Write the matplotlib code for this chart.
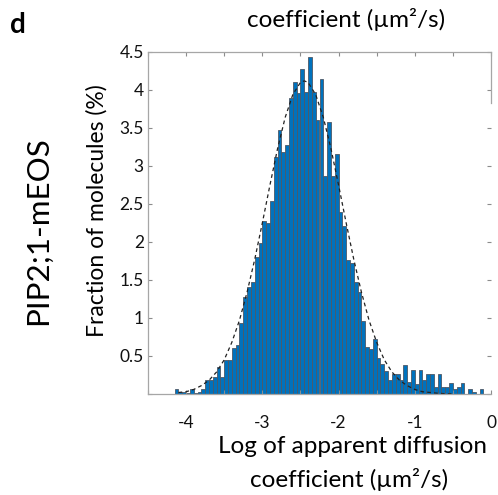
import numpy as np
import matplotlib
matplotlib.use("Agg")
import matplotlib.pyplot as plt

plt.rcParams['font.family'] = ['Lato', 'DejaVu Sans']

# histogram: left bin edge of the first bar, bin width, bar heights (%)
BIN_START = -4.15
BIN_WIDTH = 0.05
heights = [0.06, 0.03, 0.02, 0.01, 0.06, 0.01, 0.03, 0.06, 0.19, 0.19,
           0.22, 0.35, 0.22, 0.45, 0.45, 0.61, 0.64, 0.93, 1.28, 1.41,
           1.48, 1.80, 1.99, 2.28, 2.25, 2.54, 3.12, 3.47, 3.19, 3.28,
           3.89, 4.11, 3.96, 4.27, 3.98, 4.43, 3.98, 3.60, 4.15, 2.87,
           3.58, 2.87, 3.16, 2.40, 2.21, 1.76, 1.73, 1.47, 1.34, 0.96,
           0.62, 0.59, 0.72, 0.47, 0.40, 0.30, 0.19, 0.26, 0.26, 0.19,
           0.385, 0.155, 0.32, 0.13, 0.32, 0.19, 0.26, 0.26, 0.09, 0.26,
           0.09, 0.09, 0.15, 0.06, 0.09, 0.15, 0.0, 0.06, 0.03, 0.0, 0.06]

# dashed fit curve
fit_x = [-4.1, -4.0, -3.9, -3.8, -3.7, -3.6, -3.5, -3.4, -3.3, -3.2,
         -3.1, -3.0, -2.9, -2.8, -2.7, -2.6, -2.5, -2.45, -2.4, -2.3,
         -2.2, -2.1, -2.0, -1.9, -1.8, -1.7, -1.6, -1.5, -1.4, -1.3,
         -1.2, -1.1, -1.0, -0.9, -0.8, -0.7, -0.6, -0.5]
fit_y = [0.02, 0.03, 0.06, 0.11, 0.18, 0.29, 0.45, 0.68, 0.97, 1.34,
         1.77, 2.25, 2.75, 3.23, 3.64, 3.94, 4.10, 4.12, 4.10, 3.94,
         3.64, 3.23, 2.75, 2.25, 1.77, 1.34, 0.97, 0.68, 0.45, 0.29,
         0.18, 0.11, 0.06, 0.03, 0.02, 0.01, 0.004, 0.002]

x_ticks = [-4.5, -4, -3.5, -3, -2.5, -2, -1.5, -1, -0.5, 0]
x_labels = ['', '-4', '', '-3', '', '-2', '', '-1', '', '0']
y_ticks = [0, 0.5, 1, 1.5, 2, 2.5, 3, 3.5, 4, 4.5]
y_labels = ['', '0.5', '1', '1.5', '2', '2.5', '3', '3.5', '4', '4.5']

W, H = 498, 495
fig = plt.figure(figsize=(W / 100, H / 100), dpi=100)
ax = fig.add_axes([148 / W, 1 - 394 / H, 343 / W, 342 / H])

centers = BIN_START + BIN_WIDTH * (np.arange(len(heights)) + 0.5)
ax.bar(centers, heights, width=BIN_WIDTH, color='#0072BD',
       edgecolor='#4d5866', linewidth=0.6)
ax.plot(fit_x, fit_y, ls=(0, (3, 2.5)), color='#222222', lw=0.9)

ax.set_xlim(-4.5, 0)
ax.set_ylim(0, 4.5)
ax.set_xticks(x_ticks)
ax.set_xticklabels(x_labels)
ax.set_yticks(y_ticks)
ax.set_yticklabels(y_labels)
ax.tick_params(direction='in', length=3, color='#8c8c8c', width=0.8,
               top=True, right=True, labelsize=12.5, labelcolor='#111111')
ax.tick_params(axis='x', pad=15)
ax.tick_params(axis='y', pad=3)
for s in ax.spines.values():
    s.set_color('#a6a6a6')
    s.set_linewidth(0.9)
ax.spines['right'].set_bounds(3.83, 4.5)

fig.text(10 / W, 1 - 25 / H, 'd', fontsize=20, fontweight='bold',
         ha='left', va='center')
fig.text(346 / W, 1 - 27 / H, 'coefficient (µm²/s)', fontsize=17.5,
         ha='center', va='baseline')
fig.text(352 / W, 1 - 453 / H, 'Log of apparent diffusion', fontsize=17.5,
         ha='center', va='baseline')
fig.text(349 / W, 1 - 487 / H, 'coefficient (µm²/s)', fontsize=17.5,
         ha='center', va='baseline')
fig.text(97 / W, 1 - 211 / H, 'Fraction of molecules (%)', fontsize=16.5,
         rotation=90, ha='center', va='center')
fig.text(38 / W, 1 - 231 / H, 'PIP2;1-mEOS', fontsize=22.5,
         rotation=90, ha='center', va='center')

fig.savefig('out.png', dpi=100)
